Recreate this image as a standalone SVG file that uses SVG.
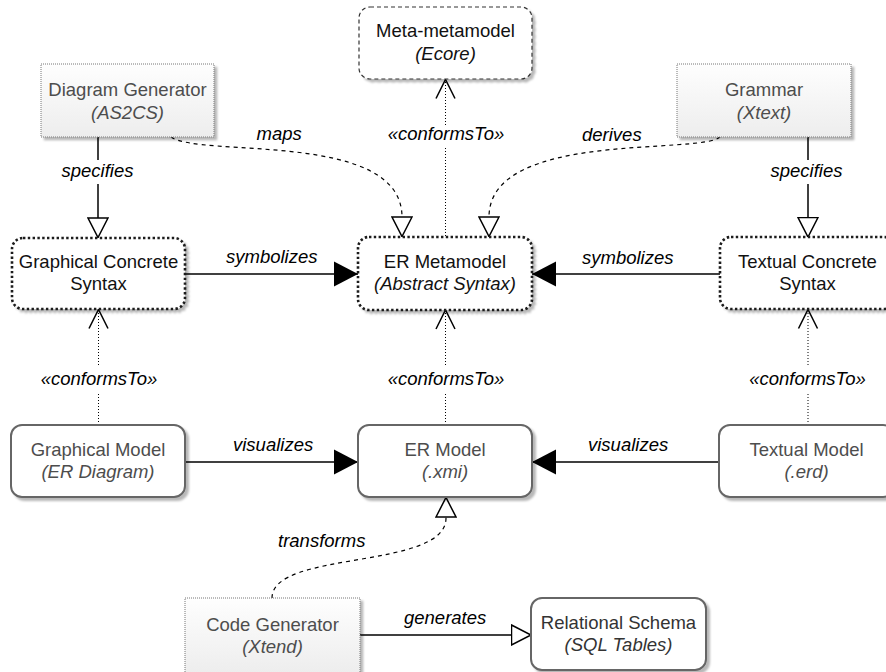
<svg xmlns="http://www.w3.org/2000/svg" width="886" height="672" viewBox="0 0 886 672">
  <style>
    text { font-family: "Liberation Sans", Arial, sans-serif; font-size: 18.5px; }
    .c { text-anchor: middle; }
    .it { font-style: italic; }
    .lbl { font-style: italic; fill: #000; }
    .gen { fill: url(#genFill); stroke: #777; stroke-width: 1; stroke-dasharray: 1 1; filter: url(#shadow); }
    .syn { fill: #fff; stroke: #1a1a1a; stroke-width: 2.6; stroke-dasharray: 2.4 2.4; filter: url(#shadow); }
    .meta { fill: #fff; stroke: #333; stroke-width: 1.2; stroke-dasharray: 4 3; filter: url(#shadow); }
    .mdl { fill: #fff; stroke: #666; stroke-width: 2; filter: url(#shadow); }
    .tg { fill: #4d4d4d; }
    .tb { fill: #111; }
    .solid { fill: none; stroke: #000; stroke-width: 1.5; }
    .dash { fill: none; stroke: #000; stroke-width: 1.2; stroke-dasharray: 4 4; }
    .dot { fill: none; stroke: #000; stroke-width: 1; stroke-dasharray: 1 2; }
    .bg { fill: #fff; }
  </style>
  <defs>
    <linearGradient id="genFill" x1="0" y1="0" x2="0" y2="1">
      <stop offset="0" stop-color="#fefefe"/>
      <stop offset="1" stop-color="#ededed"/>
    </linearGradient>
    <filter id="shadow" x="-10%" y="-10%" width="125%" height="130%">
      <feDropShadow dx="3" dy="3" stdDeviation="0.8" flood-color="#000" flood-opacity="0.28"/>
    </filter>
    <marker id="filled" viewBox="0 0 26 26" markerWidth="26" markerHeight="26" refX="24" refY="13" orient="auto" markerUnits="userSpaceOnUse">
      <path d="M0,0.5 L24,13 L0,25.5 z" fill="#000" stroke="none"/>
    </marker>
    <marker id="hollow" viewBox="0 0 22 22" markerWidth="22" markerHeight="22" refX="20.5" refY="11" orient="auto" markerUnits="userSpaceOnUse">
      <path d="M1,1 L20.5,11 L1,21 z" fill="#fff" stroke="#000" stroke-width="1.5" stroke-dasharray="none"/>
    </marker>
    <marker id="open" viewBox="0 0 22 22" markerWidth="22" markerHeight="22" refX="20" refY="11" orient="auto" markerUnits="userSpaceOnUse">
      <path d="M1,1.5 L20,11 L1,20.5" fill="none" stroke="#000" stroke-width="1.5" stroke-dasharray="none"/>
    </marker>
  </defs>

  <!-- connectors -->
  <g id="connectors">
    <path class="solid" d="M98,137 L98,237.5" marker-end="url(#hollow)"/>
    <path class="solid" d="M808,137 L808,237" marker-end="url(#hollow)"/>
    <path class="dash" d="M171,137 C200,158 402,130 402,217 L402,236.5" marker-end="url(#hollow)"/>
    <path class="dash" d="M720,137 C700,155 489,130 489,217 L489,236.5" marker-end="url(#hollow)"/>
    <path class="dot" d="M445.5,236 L445.5,79.5" marker-end="url(#open)"/>
    <path class="solid" d="M185,274 L358,274" marker-end="url(#filled)"/>
    <path class="solid" d="M720,274 L532,274" marker-end="url(#filled)"/>
    <path class="dot" d="M98.5,425 L98.5,309.5" marker-end="url(#open)"/>
    <path class="dot" d="M445.5,425 L445.5,310" marker-end="url(#open)"/>
    <path class="dot" d="M808,425 L808,309.5" marker-end="url(#open)"/>
    <path class="solid" d="M185,462 L358,462" marker-end="url(#filled)"/>
    <path class="solid" d="M719,462 L532,462" marker-end="url(#filled)"/>
    <path class="dash" d="M272,598 C272,550 446,570 446,518 L446,497.5" marker-end="url(#hollow)"/>
    <path class="solid" d="M360,635 L531,635" marker-end="url(#hollow)"/>

    <!-- labels -->
    <text class="lbl" x="256.5" y="140">maps</text>
    <text class="lbl" x="582" y="141">derives</text>
    <rect class="bg" x="384" y="125" width="124" height="22"/>
    <text class="lbl c" x="446" y="140">«conformsTo»</text>
    <rect class="bg" x="57" y="160" width="82" height="24"/>
    <text class="lbl c" x="97.5" y="177">specifies</text>
    <rect class="bg" x="766" y="160" width="82" height="24"/>
    <text class="lbl c" x="806.5" y="177">specifies</text>
    <text class="lbl" x="226" y="263">symbolizes</text>
    <text class="lbl" x="582" y="264">symbolizes</text>
    <rect class="bg" x="36" y="367" width="126" height="25"/>
    <text class="lbl c" x="99" y="385">«conformsTo»</text>
    <rect class="bg" x="383" y="367" width="126" height="25"/>
    <text class="lbl c" x="446" y="385">«conformsTo»</text>
    <rect class="bg" x="744" y="367" width="126" height="25"/>
    <text class="lbl c" x="807.5" y="385">«conformsTo»</text>
    <text class="lbl" x="233" y="451">visualizes</text>
    <text class="lbl" x="588" y="451">visualizes</text>
    <text class="lbl" x="278" y="547">transforms</text>
    <text class="lbl" x="404" y="624">generates</text>
  </g>

  <!-- nodes -->
  <g id="diagram-generator">
    <rect class="gen" x="41" y="64" width="173" height="73"/>
    <text class="c tg" x="127.5" y="96">Diagram Generator</text>
    <text class="c tg it" x="127.5" y="119">(AS2CS)</text>
  </g>
  <g id="meta-metamodel">
    <rect class="meta" x="359" y="7" width="173" height="72" rx="11"/>
    <text class="c tb" x="445.5" y="37">Meta-metamodel</text>
    <text class="c tb it" x="445.5" y="60">(Ecore)</text>
  </g>
  <g id="grammar">
    <rect class="gen" x="677" y="64" width="174" height="73"/>
    <text class="c tg" x="764" y="96">Grammar</text>
    <text class="c tg it" x="764" y="119">(Xtext)</text>
  </g>
  <g id="graphical-concrete-syntax">
    <rect class="syn" x="12" y="238" width="173" height="71" rx="11"/>
    <text class="c tb" x="98.5" y="268">Graphical Concrete</text>
    <text class="c tb" x="98.5" y="290">Syntax</text>
  </g>
  <g id="er-metamodel">
    <rect class="syn" x="358" y="237" width="174" height="73" rx="11"/>
    <text class="c tb" x="445" y="268">ER Metamodel</text>
    <text class="c tb it" x="445" y="290">(Abstract Syntax)</text>
  </g>
  <g id="textual-concrete-syntax">
    <rect class="syn" x="720" y="237" width="175" height="72" rx="11"/>
    <text class="c tb" x="807.5" y="268">Textual Concrete</text>
    <text class="c tb" x="807.5" y="290">Syntax</text>
  </g>
  <g id="graphical-model">
    <rect class="mdl" x="11" y="425" width="174" height="72" rx="11"/>
    <text class="c tg" x="98" y="456">Graphical Model</text>
    <text class="c tg it" x="98" y="478">(ER Diagram)</text>
  </g>
  <g id="er-model">
    <rect class="mdl" x="358" y="425" width="174" height="72" rx="11"/>
    <text class="c tg" x="445" y="456">ER Model</text>
    <text class="c tg it" x="445" y="478">(.xmi)</text>
  </g>
  <g id="textual-model">
    <rect class="mdl" x="719" y="425" width="175" height="72" rx="11"/>
    <text class="c tg" x="806.5" y="456">Textual Model</text>
    <text class="c tg it" x="806.5" y="478">(.erd)</text>
  </g>
  <g id="code-generator">
    <rect class="gen" x="185" y="598" width="175" height="76"/>
    <text class="c tg" x="272.5" y="631">Code Generator</text>
    <text class="c tg it" x="272.5" y="653">(Xtend)</text>
  </g>
  <g id="relational-schema">
    <rect class="mdl" x="531" y="598" width="175" height="72" rx="11"/>
    <text class="c" x="618.5" y="629" fill="#333">Relational Schema</text>
    <text class="c it" x="618.5" y="651" fill="#333">(SQL Tables)</text>
  </g>
</svg>
